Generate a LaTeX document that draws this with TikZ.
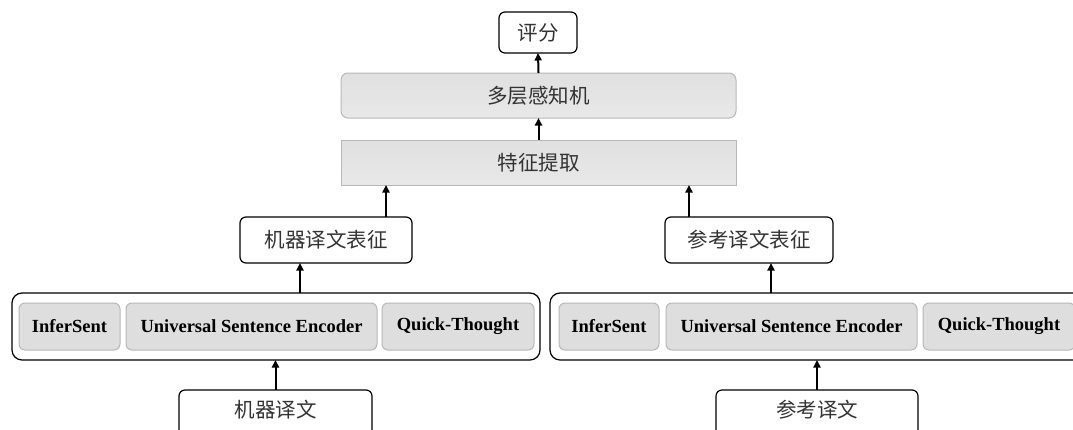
\documentclass[tikz,border=0pt]{standalone}
\usepackage{fontspec}
\setmainfont{Liberation Serif}
\newfontfamily\cjk{Noto Sans CJK SC}
\usetikzlibrary{arrows.meta}
\definecolor{boxgray}{HTML}{D3D3D3}
\definecolor{boxedge}{HTML}{B8B8B8}
\definecolor{txtgray}{HTML}{333333}
\tikzset{
  base/.style={inner sep=0pt, outer sep=0pt, anchor=center},
  whitebox/.style={base, draw=black, line width=1.2pt, fill=white, rounded corners=6pt,
    font=\cjk\fontsize{20.5}{24}\selectfont, text=txtgray},
  groupbox/.style={base, draw=black, line width=1.2pt, fill=white, rounded corners=10pt},
  graybox/.style={base, draw=boxedge, line width=1pt, top color=boxgray!70, bottom color=boxgray!110!black,
    font=\cjk\fontsize{20.5}{24}\selectfont, text=txtgray},
  encbox/.style={base, draw=boxedge, line width=1pt, top color=boxgray!75, bottom color=boxgray!105!black,
    rounded corners=6pt, font=\bfseries\fontsize{18.5}{22}\selectfont, text=black},
  arr/.style={-{Triangle[length=7.5pt,width=7pt]}, line width=2pt, black},
}
\begin{document}
\begin{tikzpicture}[x=1pt,y=-1pt]
\useasboundingbox (0,0) rectangle (1073,429);
\clip (0,0) rectangle (1073,429);
\fill[white] (0,0) rectangle (1073,429);

% top part
\node[whitebox, minimum width=78, minimum height=41] (score) at (538,32.5) {评分};
\node[graybox, rounded corners=7pt, minimum width=395, minimum height=45] (mlp) at (538.5,95.5) {多层感知机};
\node[graybox, minimum width=395, minimum height=45] (feat) at (538.5,162.5) {特征提取};

% representations
\node[whitebox, minimum width=172, minimum height=46] (mrep) at (326,240) {机器译文表征};
\node[whitebox, minimum width=168, minimum height=46] (rrep) at (749,240) {参考译文表征};

% encoder groups
\node[groupbox, minimum width=528, minimum height=67] (lgroup) at (276,326.5) {};
\node[groupbox, minimum width=533, minimum height=67] (rgroup) at (816.5,326.5) {};

\node[encbox, minimum width=101, minimum height=47] (lis) at (69.5,326.5) {InferSent};
\node[encbox, minimum width=251, minimum height=47] (luse) at (251.5,326.5) {Universal Sentence Encoder};
\node[encbox, minimum width=152, minimum height=47] (lqt) at (458,326.5) {Quick-Thought};

\node[encbox, minimum width=100, minimum height=47] (ris) at (609,326.5) {InferSent};
\node[encbox, minimum width=251, minimum height=47] (ruse) at (791.5,326.5) {Universal Sentence Encoder};
\node[encbox, minimum width=152, minimum height=47] (rqt) at (999,326.5) {Quick-Thought};

% inputs (boxes run past the lower edge)
\node[whitebox, minimum width=193, minimum height=48] (msrc) at (275.5,414) {};
\node[font=\cjk\fontsize{20.5}{24}\selectfont, text=txtgray] (msrctxt) at (275.5,409.5) {机器译文};
\node[whitebox, minimum width=202, minimum height=48] (rsrc) at (817,414) {};
\node[font=\cjk\fontsize{20.5}{24}\selectfont, text=txtgray] (rsrctxt) at (817,409.5) {参考译文};

% connectors
\coordinate (lx) at (300,0);
\coordinate (rx) at (771,0);
\draw[arr] (mlp.north) -- (score.south);
\draw[arr] (feat.north) -- (mlp.south);
\draw[arr] ([xshift=60pt]mrep.north) -- ([xshift=60pt]mrep.north |- feat.south);
\draw[arr] ([xshift=-60pt]rrep.north) -- ([xshift=-60pt]rrep.north |- feat.south);
\draw[arr] (lx |- lgroup.north) -- (lx |- mrep.south);
\draw[arr] (rx |- rgroup.north) -- (rx |- rrep.south);
\draw[arr] (msrc.north) -- (msrc.north |- lgroup.south);
\draw[arr] (rsrc.north) -- (rsrc.north |- rgroup.south);
\end{tikzpicture}
\end{document}
